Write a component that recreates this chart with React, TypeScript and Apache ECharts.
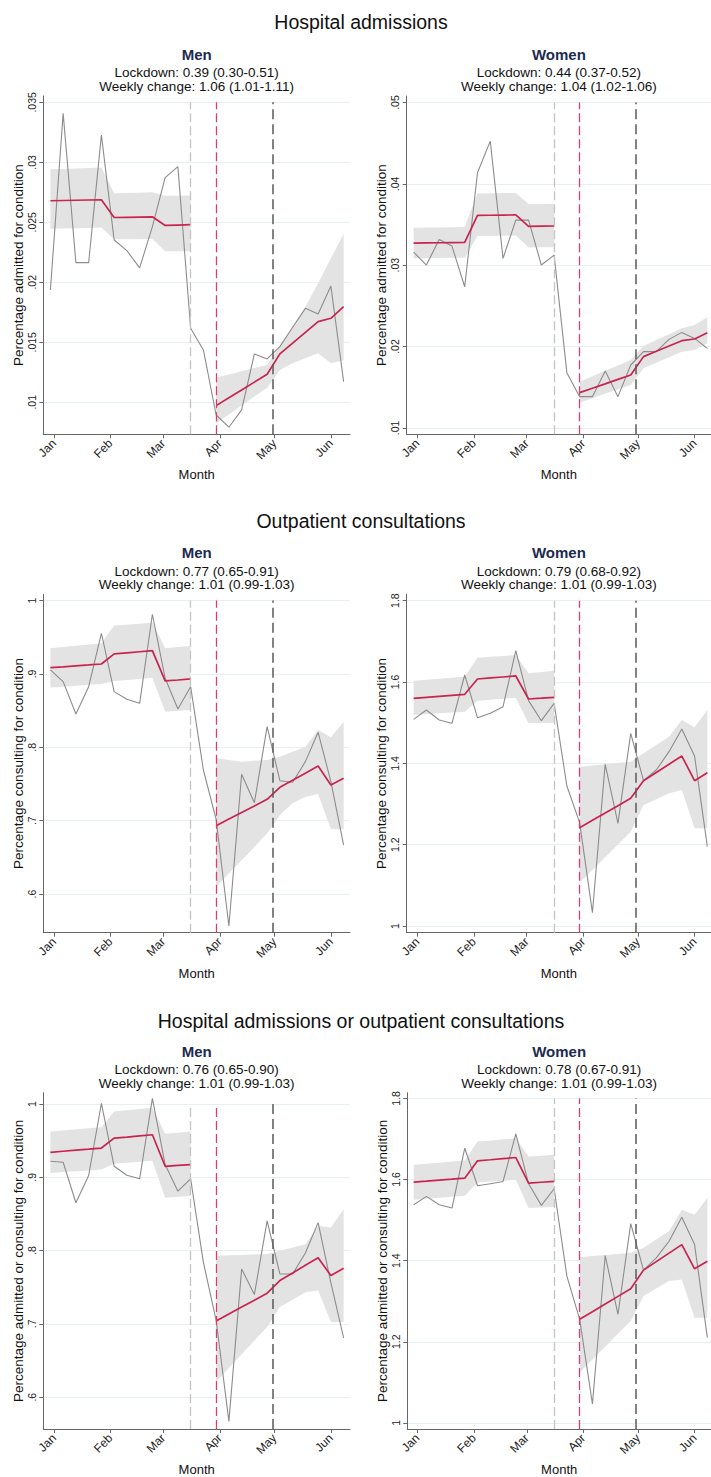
import React, { useEffect, useRef } from 'react';
import * as echarts from 'echarts';

const FONT = '"Liberation Sans", Arial, Helvetica, sans-serif';

// ---- axes / categories ----
const monthTicks = [0, 31, 60, 91, 121, 152];
const monthLabels = ['Jan', 'Feb', 'Mar', 'Apr', 'May', 'Jun'];
// week start (days since 1 Jan 2020)
const weekDays = [-2, 5, 12, 19, 26, 33, 40, 47, 54, 61, 68, 75, 82, 89, 96, 103, 110, 117, 124, 131, 138, 145, 152, 159];
const preDays = weekDays.slice(0, 12);
const postDays = weekDays.slice(13);
const refLineDays = [75, 89, 120];

const sectionTitles = ['Hospital admissions', 'Outpatient consultations', 'Hospital admissions or outpatient consultations'];
const panelTitles = ['Men', 'Women', 'Men', 'Women', 'Men', 'Women'];
const lockdownText = ['Lockdown: 0.39 (0.30-0.51)', 'Lockdown: 0.44 (0.37-0.52)', 'Lockdown: 0.77 (0.65-0.91)', 'Lockdown: 0.79 (0.68-0.92)', 'Lockdown: 0.76 (0.65-0.90)', 'Lockdown: 0.78 (0.67-0.91)'];
const weeklyText = ['Weekly change: 1.06 (1.01-1.11)', 'Weekly change: 1.04 (1.02-1.06)', 'Weekly change: 1.01 (0.99-1.03)', 'Weekly change: 1.01 (0.99-1.03)', 'Weekly change: 1.01 (0.99-1.03)', 'Weekly change: 1.01 (0.99-1.03)'];
const yNames = ['Percentage admitted for condition', 'Percentage admitted for condition', 'Percentage consulting for condition', 'Percentage consulting for condition', 'Percentage admitted or consulting for condition', 'Percentage admitted or consulting for condition'];

const yTicksHAMen = [0.01, 0.015, 0.02, 0.025, 0.03, 0.035];
const yTicksHAWomen = [0.01, 0.02, 0.03, 0.04, 0.05];
const yTicksMen = [0.6, 0.7, 0.8, 0.9, 1];
const yTicksWomen = [1, 1.2, 1.4, 1.6, 1.8];

// ---- Hospital admissions, men ----
const haMenObs = [0.01936, 0.03408, 0.02164, 0.02164, 0.03228, 0.02353, 0.02264, 0.0212, 0.02464, 0.02872, 0.02964, 0.01617, 0.01436, 0.00894, 0.00792, 0.00936, 0.01403, 0.01361, 0.01464, 0.01625, 0.01783, 0.01736, 0.01969, 0.01172];
const haMenFitPre = [0.0268, 0.02682, 0.02684, 0.02686, 0.02688, 0.0254, 0.02542, 0.02544, 0.02546, 0.02474, 0.02477, 0.0248];
const haMenLoPre = [0.02447, 0.02449, 0.0245, 0.02452, 0.02456, 0.02358, 0.02358, 0.02359, 0.0236, 0.02258, 0.02258, 0.02259];
const haMenHiPre = [0.02942, 0.02945, 0.02948, 0.02952, 0.02956, 0.02742, 0.02744, 0.02746, 0.0275, 0.02722, 0.02722, 0.02723];
const haMenFitPost = [0.00972, 0.01037, 0.01102, 0.01168, 0.01233, 0.01403, 0.01493, 0.01583, 0.01672, 0.017, 0.01797];
const haMenLoPost = [0.00825, 0.00899, 0.00974, 0.01048, 0.01122, 0.0127, 0.01325, 0.01367, 0.01408, 0.01325, 0.0135];
const haMenHiPost = [0.01206, 0.01232, 0.01258, 0.01285, 0.01311, 0.01469, 0.0163, 0.01797, 0.01992, 0.022, 0.02405];

// ---- Hospital admissions, women ----
const haWomenObs = [0.03161, 0.03002, 0.03317, 0.03235, 0.02735, 0.04136, 0.04525, 0.03084, 0.03554, 0.03554, 0.03002, 0.03124, 0.01679, 0.01384, 0.01384, 0.017, 0.01384, 0.01773, 0.01937, 0.01937, 0.02088, 0.02174, 0.021, 0.01978];
const haWomenFitPre = [0.03272, 0.03274, 0.03276, 0.03278, 0.0328, 0.03612, 0.03614, 0.03616, 0.03618, 0.03478, 0.0348, 0.03482];
const haWomenLoPre = [0.03084, 0.03086, 0.03088, 0.0309, 0.03092, 0.03358, 0.0336, 0.03362, 0.03364, 0.03219, 0.03221, 0.03222];
const haWomenHiPre = [0.0346, 0.03462, 0.03464, 0.03466, 0.03468, 0.03882, 0.03884, 0.03886, 0.03888, 0.03751, 0.03753, 0.03755];
const haWomenFitPost = [0.01433, 0.01487, 0.01541, 0.01596, 0.0165, 0.01876, 0.01941, 0.02006, 0.02072, 0.02093, 0.0217];
const haWomenLoPost = [0.0131, 0.01365, 0.01419, 0.01474, 0.01528, 0.01732, 0.018, 0.01868, 0.01937, 0.01957, 0.02039];
const haWomenHiPost = [0.01568, 0.01635, 0.01702, 0.01768, 0.01835, 0.02007, 0.02079, 0.02152, 0.02224, 0.02265, 0.02359];

// ---- Outpatient consultations, men ----
const opMenObs = [0.9055, 0.8895, 0.8455, 0.8827, 0.9555, 0.8759, 0.8655, 0.86, 0.9814, 0.8941, 0.8523, 0.8827, 0.7691, 0.7018, 0.5564, 0.7632, 0.7245, 0.8282, 0.7545, 0.7523, 0.7805, 0.8205, 0.7532, 0.6668];
const opMenFitPre = [0.9086, 0.9098, 0.9111, 0.9123, 0.9136, 0.9273, 0.9288, 0.9303, 0.9318, 0.8905, 0.8918, 0.8932];
const opMenLoPre = [0.8814, 0.8827, 0.8839, 0.8852, 0.8864, 0.8903, 0.8918, 0.8932, 0.8947, 0.8486, 0.8498, 0.851];
const opMenHiPre = [0.935, 0.9367, 0.9384, 0.9401, 0.9418, 0.9659, 0.9672, 0.9686, 0.97, 0.935, 0.9366, 0.9382];
const opMenFitPost = [0.6932, 0.7022, 0.7112, 0.7201, 0.7291, 0.7455, 0.7552, 0.7648, 0.7745, 0.7486, 0.7577];
const opMenLoPost = [0.61, 0.628, 0.646, 0.664, 0.6827, 0.7077, 0.7236, 0.7327, 0.7364, 0.6882, 0.6882];
const opMenHiPost = [0.785, 0.7828, 0.7805, 0.7816, 0.7827, 0.7873, 0.7941, 0.8009, 0.8236, 0.8136, 0.835];

// ---- Outpatient consultations, women ----
const opWomenObs = [1.5082, 1.5311, 1.5066, 1.4984, 1.6172, 1.5123, 1.523, 1.5393, 1.677, 1.5541, 1.5049, 1.5475, 1.3443, 1.2541, 1.0328, 1.3975, 1.2525, 1.4738, 1.3574, 1.3836, 1.4287, 1.4844, 1.418, 1.1951];
const opWomenFitPre = [1.5598, 1.5623, 1.5648, 1.5672, 1.5697, 1.6074, 1.6099, 1.6123, 1.6148, 1.5582, 1.5602, 1.5623];
const opWomenLoPre = [1.5189, 1.5209, 1.523, 1.525, 1.527, 1.5541, 1.5566, 1.559, 1.5615, 1.4984, 1.4992, 1.5];
const opWomenHiPre = [1.6033, 1.6058, 1.6082, 1.6107, 1.6131, 1.6598, 1.662, 1.6642, 1.6664, 1.6213, 1.6246, 1.6279];
const opWomenFitPost = [1.2418, 1.2598, 1.2779, 1.2959, 1.3139, 1.3574, 1.3776, 1.3978, 1.418, 1.3574, 1.377];
const opWomenLoPost = [1.1066, 1.138, 1.1693, 1.2007, 1.232, 1.2975, 1.3118, 1.3262, 1.3344, 1.2402, 1.2402];
const opWomenHiPost = [1.3918, 1.3949, 1.398, 1.401, 1.4041, 1.4246, 1.4451, 1.4656, 1.5066, 1.4885, 1.5311];

// ---- Admissions or consultations, men ----
const anyMenObs = [0.9218, 0.9205, 0.8653, 0.9024, 1.0009, 0.915, 0.9028, 0.8979, 1.0077, 0.9173, 0.8811, 0.8979, 0.784, 0.7049, 0.567, 0.7749, 0.7401, 0.8405, 0.7681, 0.7681, 0.7966, 0.8382, 0.7559, 0.6809];
const anyMenFitPre = [0.934, 0.9355, 0.937, 0.9384, 0.9399, 0.9534, 0.9549, 0.9565, 0.958, 0.915, 0.9162, 0.9173];
const anyMenLoPre = [0.906, 0.9071, 0.9083, 0.9094, 0.9105, 0.9185, 0.9198, 0.9212, 0.9227, 0.8721, 0.8733, 0.8744];
const anyMenHiPre = [0.9625, 0.964, 0.9655, 0.9669, 0.9684, 0.9896, 0.9914, 0.9932, 0.995, 0.9593, 0.9609, 0.9625];
const anyMenFitPost = [0.704, 0.7135, 0.723, 0.7324, 0.7419, 0.7591, 0.7695, 0.7799, 0.7903, 0.7659, 0.7758];
const anyMenLoPost = [0.6212, 0.6399, 0.6585, 0.6772, 0.6958, 0.7229, 0.7331, 0.7433, 0.7455, 0.7026, 0.7026];
const anyMenHiPost = [0.793, 0.7936, 0.7941, 0.7947, 0.7953, 0.7998, 0.8043, 0.8088, 0.8337, 0.8314, 0.8563];

// ---- Admissions or consultations, women ----
const anyWomenObs = [1.5379, 1.5584, 1.5379, 1.5297, 1.6771, 1.5846, 1.5895, 1.5952, 1.7124, 1.5895, 1.5363, 1.5772, 1.3618, 1.2554, 1.0465, 1.4126, 1.2676, 1.4912, 1.3766, 1.4069, 1.4478, 1.5068, 1.4396, 1.2103];
const anyWomenFitPre = [1.5936, 1.596, 1.5985, 1.6009, 1.6034, 1.646, 1.6487, 1.6515, 1.6542, 1.5912, 1.5932, 1.5952];
const anyWomenLoPre = [1.5502, 1.5527, 1.5551, 1.5576, 1.56, 1.5928, 1.595, 1.5971, 1.5993, 1.5297, 1.531, 1.5322];
const anyWomenHiPre = [1.6362, 1.6389, 1.6415, 1.6442, 1.6468, 1.6935, 1.6962, 1.699, 1.7017, 1.6567, 1.6588, 1.6608];
const anyWomenFitPost = [1.2554, 1.2742, 1.2931, 1.3119, 1.3307, 1.3766, 1.3976, 1.4186, 1.4396, 1.3799, 1.3987];
const anyWomenLoPost = [1.1243, 1.1561, 1.1878, 1.2196, 1.2513, 1.3127, 1.3312, 1.3496, 1.3537, 1.2595, 1.2595];
const anyWomenHiPost = [1.4085, 1.4112, 1.4139, 1.4165, 1.4192, 1.4315, 1.452, 1.4724, 1.5256, 1.5133, 1.5543];

const panelData = [
  { obs: haMenObs, fitPre: haMenFitPre, loPre: haMenLoPre, hiPre: haMenHiPre, fitPost: haMenFitPost, loPost: haMenLoPost, hiPost: haMenHiPost, ticks: yTicksHAMen, yMin: 0.00733, yMax: 0.03553 },
  { obs: haWomenObs, fitPre: haWomenFitPre, loPre: haWomenLoPre, hiPre: haWomenHiPre, fitPost: haWomenFitPost, loPost: haWomenLoPost, hiPost: haWomenHiPost, ticks: yTicksHAWomen, yMin: 0.00921, yMax: 0.0508 },
  { obs: opMenObs, fitPre: opMenFitPre, loPre: opMenLoPre, hiPre: opMenHiPre, fitPost: opMenFitPost, loPost: opMenLoPost, hiPost: opMenHiPost, ticks: yTicksMen, yMin: 0.5473, yMax: 1.0086 },
  { obs: opWomenObs, fitPre: opWomenFitPre, loPre: opWomenLoPre, hiPre: opWomenHiPre, fitPost: opWomenFitPost, loPost: opWomenLoPost, hiPost: opWomenHiPost, ticks: yTicksWomen, yMin: 0.9836, yMax: 1.8156 },
  { obs: anyMenObs, fitPre: anyMenFitPre, loPre: anyMenLoPre, hiPre: anyMenHiPre, fitPost: anyMenFitPost, loPost: anyMenLoPost, hiPost: anyMenHiPost, ticks: yTicksMen, yMin: 0.5566, yMax: 1.0154 },
  { obs: anyWomenObs, fitPre: anyWomenFitPre, loPre: anyWomenLoPre, hiPre: anyWomenHiPre, fitPost: anyWomenFitPost, loPost: anyWomenLoPost, hiPost: anyWomenHiPost, ticks: yTicksWomen, yMin: 0.985, yMax: 1.814 },
];

// ---- layout (pixels) ----
const layouts = [
  { left: 43.3, top: 96, width: 306.7, height: 338.3, xMin: -5.9, xMax: 162.5 },
  { left: 406.7, top: 96, width: 304.3, height: 338.3, xMin: -5.8, xMax: 161 },
  { left: 43.3, top: 594.3, width: 306.7, height: 338.4, xMin: -5.9, xMax: 162.5 },
  { left: 406.7, top: 594.3, width: 304.3, height: 338.4, xMin: -5.8, xMax: 161 },
  { left: 43.3, top: 1092.7, width: 306.7, height: 338.3, xMin: -5.9, xMax: 162.5 },
  { left: 407.3, top: 1092.7, width: 303.7, height: 337.3, xMin: -5.5, xMax: 161 },
];
const sectionY = [22, 521, 1021];

const RED = '#c8244f';
const OBS = '#8c8c8c';
const BAND = '#e3e3e3';
const refLineStyles = [
  { color: '#c4c4c4', width: 1.3, type: [9, 4] },
  { color: '#d8406a', width: 1.3, type: [9, 4] },
  { color: '#5a5a5a', width: 1.5, type: [10, 5] },
];

const zip = (xs: number[], ys: number[]) => xs.map((x, i) => [x, ys[i]]);
const zip3 = (xs: number[], a: number[], b: number[]) => xs.map((x, i) => [x, a[i], b[i]]);
const fmtTick = (v: number) => String(+Number(v).toFixed(4)).replace(/^0\./, '.');

// CI band drawn as one polygon through the axes' scales
function bandSeries(i: number, rows: number[][]) {
  return {
    type: 'custom', xAxisIndex: i, yAxisIndex: i, silent: true, z: 1,
    data: rows,
    encode: { x: 0, y: [1, 2] },
    renderItem: (params: any, api: any) => {
      if (params.dataIndex !== 0) return null;
      const pts: number[][] = [];
      for (let k = 0; k < rows.length; k++) pts.push(api.coord([rows[k][0], rows[k][2]]));
      for (let k = rows.length - 1; k >= 0; k--) pts.push(api.coord([rows[k][0], rows[k][1]]));
      return { type: 'polygon', shape: { points: pts }, style: { fill: BAND, stroke: 'none' }, silent: true };
    },
  };
}

function textEl(x: number, y: number, text: string, size: number, extra: any = {}) {
  return {
    type: 'text', x, y, silent: true,
    style: {
      text, fontFamily: FONT, fontSize: size, fill: '#111',
      align: 'center', verticalAlign: 'middle', textAlign: 'center', textVerticalAlign: 'middle',
      ...extra,
    },
  };
}

function buildOption() {
  const grid: any[] = [];
  const xAxis: any[] = [];
  const yAxis: any[] = [];
  const series: any[] = [];
  const graphic: any[] = [];

  sectionTitles.forEach((t, i) => graphic.push(textEl(361, sectionY[i], t, 19.5)));

  layouts.forEach((L, i) => {
    const d = panelData[i];
    const cx = L.left + L.width / 2;
    grid.push({ left: L.left, top: L.top, width: L.width, height: L.height, containLabel: false });
    graphic.push(textEl(cx, L.top - 41.5, panelTitles[i], 15, { fontWeight: 'bold', fill: '#1c2b4f' }));
    graphic.push(textEl(cx, L.top - 23.2, lockdownText[i], 13.5));
    graphic.push(textEl(cx, L.top - 9.5, weeklyText[i], 13.5));

    xAxis.push({
      type: 'value', gridIndex: i, min: L.xMin, max: L.xMax,
      name: 'Month', nameLocation: 'middle', nameGap: 34,
      nameTextStyle: { fontFamily: FONT, fontSize: 13, color: '#111' },
      axisLine: { show: true, onZero: false, lineStyle: { color: '#666', width: 1 } },
      axisTick: { show: true, customValues: monthTicks, length: 4, lineStyle: { color: '#666', width: 1 } },
      axisLabel: {
        show: true, customValues: monthTicks, rotate: 45, margin: 7,
        fontFamily: FONT, fontSize: 12, color: '#222',
        formatter: (v: number) => { const k = monthTicks.indexOf(Math.round(v)); return k >= 0 ? monthLabels[k] : ''; },
      },
      splitLine: { show: false },
    });
    yAxis.push({
      type: 'value', gridIndex: i, min: d.yMin, max: d.yMax,
      name: yNames[i], nameLocation: 'middle', nameGap: 18,
      nameTextStyle: { fontFamily: FONT, fontSize: 13.5, color: '#111' },
      axisLine: { show: true, onZero: false, lineStyle: { color: '#666', width: 1 } },
      axisTick: { show: true, customValues: d.ticks, length: 4, lineStyle: { color: '#666', width: 1 } },
      axisLabel: { show: true, customValues: d.ticks, rotate: 90, margin: 6, fontFamily: FONT, fontSize: 10.5, color: '#222', formatter: (v: number) => fmtTick(v) },
      splitLine: { show: true, lineStyle: { color: '#e6eff1', width: 1 } },
    });

    const topTick = d.ticks[d.ticks.length - 1];
    const common = { xAxisIndex: i, yAxisIndex: i, type: 'line', symbol: 'none', showSymbol: false, silent: true, animation: false };

    // reference lines (beneath the data)
    series.push({
      ...common, name: `ref${i}`, data: [], z: 0,
      markLine: {
        silent: true, symbol: ['none', 'none'], label: { show: false }, animation: false,
        data: refLineDays.map((day, k) => [
          { coord: [day, d.yMin], lineStyle: refLineStyles[k] },
          { coord: [day, topTick] },
        ]),
      },
    });
    // CI bands
    series.push(bandSeries(i, zip3(preDays, d.loPre, d.hiPre)));
    series.push(bandSeries(i, zip3(postDays, d.loPost, d.hiPost)));
    // observed
    series.push({ ...common, name: `obs${i}`, z: 2, data: zip(weekDays, d.obs), lineStyle: { color: OBS, width: 1.1 } });
    // fitted
    series.push({ ...common, name: `fitPre${i}`, z: 3, data: zip(preDays, d.fitPre), lineStyle: { color: RED, width: 1.7 } });
    series.push({ ...common, name: `fitPost${i}`, z: 3, data: zip(postDays, d.fitPost), lineStyle: { color: RED, width: 1.7 } });
  });

  return { animation: false, backgroundColor: '#ffffff', grid, xAxis, yAxis, series, graphic };
}

export default function App() {
  const ref = useRef<HTMLDivElement>(null);
  useEffect(() => {
    if (!ref.current) return;
    const chart = echarts.init(ref.current, null, { renderer: 'svg' });
    chart.setOption(buildOption() as any);
    return () => chart.dispose();
  }, []);
  return (
    <div
      ref={ref}
      style={{ position: 'absolute', left: 0, top: 0, width: 711, height: 1477, background: '#fff' }}
    />
  );
}
